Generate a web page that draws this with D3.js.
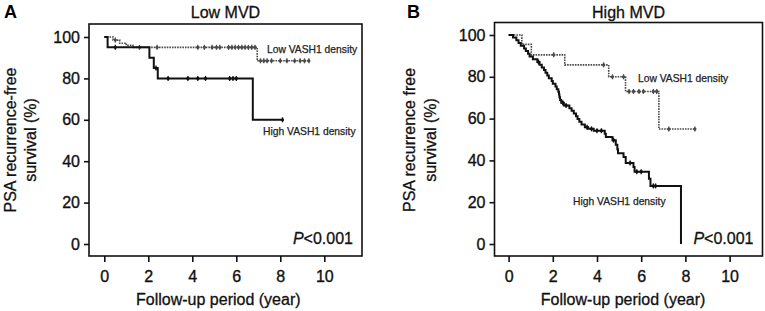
<!DOCTYPE html>
<html>
<head>
<meta charset="utf-8">
<script src="https://cdn.jsdelivr.net/npm/d3@7"></script>
<style>
    body { margin: 0; background: #fff; }
    svg { display: block; font-family: "Liberation Sans", Arial, sans-serif; }
    .tick-label { font-size: 16px; fill: #111; stroke: #111; stroke-width: 0.35px; }
    .axis-title { font-size: 16px; fill: #111; stroke: #111; stroke-width: 0.3px; }
    .note { font-size: 10.3px; fill: #222; stroke: #222; stroke-width: 0.25px; }
</style>
</head>
<body>
<svg id="chart" width="765" height="311"></svg>
<script>

// Data /////////////////////////////////////////

const xTicks = [0, 2, 4, 6, 8, 10];
const yTicks = [0, 20, 40, 60, 80, 100];

// Panel A: Low MVD  ([year, survival %] at each step)
const lowMvdLowVash = [[0, 100], [0.4, 98.5], [0.7, 97], [1.0, 96], [1.3, 95], [6.95, 88.5], [9.3, 88.5]];
const lowMvdLowVashCensor = [0.5, 1.6, 2.4, 4.25, 4.55, 4.9, 5.1, 5.25, 5.65, 5.8, 5.95, 6.1, 6.25, 6.4, 6.55, 6.7, 6.85,
    7.1, 7.25, 7.4, 7.6, 8.0, 8.3, 8.65, 8.9, 9.1, 9.3];
const lowMvdHighVash = [[0, 100], [0.15, 95], [2.05, 90], [2.25, 85], [2.43, 80], [6.75, 60], [8.1, 60]];
const lowMvdHighVashCensor = [0.5, 2.35, 2.9, 3.8, 4.25, 4.6, 5.7, 5.85, 6.0, 8.1];

// Panel B: High MVD
const highMvdLowVash = [[0, 100], [0.6, 95.5], [1.03, 90.5], [2.54, 85.7], [4.53, 80], [5.29, 73], [6.8, 55], [8.43, 55]];
const highMvdLowVashCensor = [2.04, 4.3, 4.7, 5.2, 5.45, 5.65, 5.9, 6.1, 6.55, 6.7, 7.25, 8.43];
const highMvdHighVash = [[0, 100], [0.2, 98.8], [0.35, 97.5], [0.45, 96.2], [0.55, 94.9], [0.7, 93.6], [0.78, 92.3],
    [0.88, 91], [0.95, 89.7], [1.1, 88.4], [1.3, 87.1], [1.4, 85.8], [1.5, 84.5], [1.6, 83.2], [1.67, 81.9],
    [1.75, 80.6], [1.82, 79.3], [1.95, 78], [2.0, 76.7], [2.12, 75.4], [2.18, 74.1], [2.25, 72.8], [2.28, 71.5],
    [2.3, 70.2], [2.33, 68.9], [2.38, 67.6], [2.5, 66.3], [2.75, 65], [2.85, 63.7], [2.95, 62.4], [3.05, 61.1],
    [3.12, 59.8], [3.2, 58.5], [3.3, 57.2], [3.45, 55.9], [3.6, 55.1], [3.85, 54.2], [4.35, 52.7], [4.4, 51.2],
    [4.7, 49.7], [4.85, 47.5], [4.92, 45.3], [4.95, 43.4], [5.2, 41.6], [5.3, 38.8], [5.65, 36.8], [5.7, 34.6],
    [6.35, 31.2], [6.42, 27.8], [7.8, 0]];
const highMvdHighVashCensor = [1.35, 2.45, 2.6, 3.55, 3.75, 4.0, 4.2, 4.75, 5.5, 5.8, 6.0, 6.55, 6.65];

// Layout ///////////////////////////////////////

const panels = [
    {
        letter: "A", title: "Low MVD",
        box: { x0: 89, x1: 362, y0: 24, y1: 256 },
        x: [104.3, 324.3], y: [244, 37],
        yTitle: ["PSA recurrence-free", "survival (%)"], yTitleX: [10, 30],
        letterX: 4,
        low: lowMvdLowVash, lowCensor: lowMvdLowVashCensor,
        high: lowMvdHighVash, highCensor: lowMvdHighVashCensor,
        lowNote: [267, 53], highNote: [263, 135]
    },
    {
        letter: "B", title: "High MVD",
        box: { x0: 494.5, x1: 762.5, y0: 22.5, y1: 256 },
        x: [508.6, 729.6], y: [244, 35],
        yTitle: ["PSA recurrence free", "survival (%)"], yTitleX: [409, 430],
        letterX: 407,
        low: highMvdLowVash, lowCensor: highMvdLowVashCensor,
        high: highMvdHighVash, highCensor: highMvdHighVashCensor,
        lowNote: [638, 82], highNote: [573, 205]
    }
];

const svg = d3.select("#chart");

panels.forEach(p => drawPanel(svg, p));

function drawPanel(container, p) {

    const g = container.append("g");

    const x = d3.scaleLinear().domain([0, 10]).range(p.x);
    const y = d3.scaleLinear().domain([0, 100]).range(p.y);

    // Frame ////////////////////////////////////

    g.append("rect")
        .attr("x", p.box.x0)
        .attr("y", p.box.y0)
        .attr("width", p.box.x1 - p.box.x0)
        .attr("height", p.box.y1 - p.box.y0)
        .attr("fill", "none")
        .attr("stroke", "#111")
        .attr("stroke-width", 1.6);

    // Axes /////////////////////////////////////

    const yAxis = g.append("g")
        .attr("transform", `translate(${p.box.x0},0)`)
        .call(d3.axisLeft(y).tickValues(yTicks).tickSize(5).tickPadding(4));
    const xAxis = g.append("g")
        .attr("transform", `translate(0,${p.box.y1})`)
        .call(d3.axisBottom(x).tickValues(xTicks).tickSize(6).tickPadding(9));

    [xAxis, yAxis].forEach(a => {
        a.select(".domain").remove();
        a.selectAll("line").attr("stroke", "#111").attr("stroke-width", 1.6);
        a.selectAll("text")
            .attr("class", "tick-label")
            .attr("font-size", null)
            .attr("font-family", null);
    });

    g.append("text")
        .attr("class", "axis-title")
        .attr("x", (p.x[0] + p.x[1]) / 2 + 4)
        .attr("y", 305)
        .attr("text-anchor", "middle")
        .text("Follow-up period (year)");

    p.yTitle.forEach((t, i) => {
        g.append("text")
            .attr("class", "axis-title")
            .attr("transform", `translate(${p.yTitleX[i]},140) rotate(-90)`)
            .attr("dy", "0.35em")
            .attr("text-anchor", "middle")
            .text(t);
    });

    g.append("text")
        .attr("class", "axis-title")
        .attr("x", (p.box.x0 + p.box.x1) / 2)
        .attr("y", 18)
        .attr("text-anchor", "middle")
        .text(p.title);

    g.append("text")
        .attr("x", p.letterX)
        .attr("y", 18)
        .attr("font-size", 18)
        .attr("font-weight", "bold")
        .text(p.letter);

    // Curves ///////////////////////////////////

    const line = d3.line()
        .x(d => x(d[0]))
        .y(d => y(d[1]))
        .curve(d3.curveStepAfter);

    const series = [
        { steps: p.low, censor: p.lowCensor, color: "#4a4a4a", width: 1.6, dash: "1.6,1" },
        { steps: p.high, censor: p.highCensor, color: "#111", width: 2, dash: null }
    ];

    series.forEach(s => {
        g.append("path")
            .datum(s.steps)
            .attr("d", line)
            .attr("fill", "none")
            .attr("stroke", s.color)
            .attr("stroke-width", s.width)
            .attr("stroke-dasharray", s.dash);

        // survival level at a given time
        const level = t => {
            let v = s.steps[0][1];
            s.steps.forEach(d => { if (d[0] <= t) v = d[1]; });
            return v;
        };

        const marks = g.append("g");
        marks.selectAll("line")
            .data(s.censor)
            .join("line")
            .attr("x1", d => x(d))
            .attr("x2", d => x(d))
            .attr("y1", d => y(level(d)) - 2.5)
            .attr("y2", d => y(level(d)) + 2.5)
            .attr("stroke", s.color)
            .attr("stroke-width", 1.3);
        marks.selectAll("circle")
            .data(s.censor)
            .join("circle")
            .attr("cx", d => x(d))
            .attr("cy", d => y(level(d)))
            .attr("r", 1.6)
            .attr("fill", s.color);
    });

    // Notes ////////////////////////////////////

    g.append("text")
        .attr("class", "note")
        .attr("x", p.lowNote[0])
        .attr("y", p.lowNote[1])
        .text("Low VASH1 density");
    g.append("text")
        .attr("class", "note")
        .attr("x", p.highNote[0])
        .attr("y", p.highNote[1])
        .text("High VASH1 density");

    const pText = g.append("text")
        .attr("class", "axis-title")
        .attr("x", p.box.x1 - 9)
        .attr("y", 244)
        .attr("font-size", 15)
        .attr("text-anchor", "end");
    pText.append("tspan").attr("font-style", "italic").text("P");
    pText.append("tspan").text("<0.001");
}

</script>
</body>
</html>
